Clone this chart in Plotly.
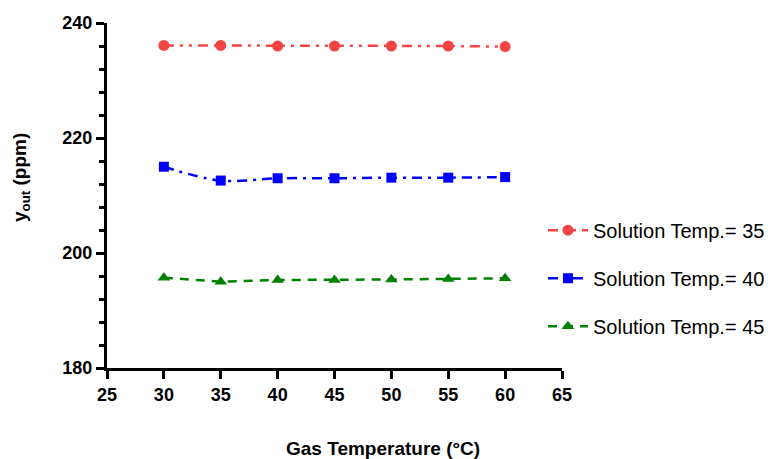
import plotly.graph_objects as go

gas_temp = [30, 35, 40, 45, 50, 55, 60]
sol35 = [236.1, 236.1, 236.0, 236.0, 236.0, 236.0, 235.9]
sol40 = [215.0, 212.6, 213.0, 213.0, 213.1, 213.1, 213.2]
sol45 = [195.7, 195.0, 195.3, 195.3, 195.4, 195.5, 195.6]
names = ["Solution Temp.= 35", "Solution Temp.= 40", "Solution Temp.= 45"]
x_title = "<b>Gas Temperature (°C)</b>"
y_title = "<b>y<sub>out</sub> (ppm)</b>"

fig = go.Figure()
fig.add_trace(go.Scatter(x=gas_temp, y=sol35, name=names[0], mode="lines+markers",
                         line=dict(color="#f44444", width=2.5, dash="10px,6px,3px,6px,3px,6px"),
                         marker=dict(symbol="circle", size=11, color="#f44444"),
                         legendgroup="a"))
fig.add_trace(go.Scatter(x=gas_temp, y=sol40, name=names[1], mode="lines+markers",
                         line=dict(color="#0000ff", width=2.5, dash="10px,6px,3px,6px", shape="spline"),
                         marker=dict(symbol="square", size=10, color="#0000ff"),
                         legendgroup="b"))
fig.add_trace(go.Scatter(x=gas_temp, y=sol45, name=names[2], mode="lines+markers",
                         line=dict(color="#008000", width=2.5, dash="9px,7px"),
                         marker=dict(symbol="triangle-up", size=11, color="#008000"),
                         legendgroup="c"))

fig.update_layout(
    width=768, height=459,
    margin=dict(l=107, r=206, t=23, b=91, autoexpand=False),
    plot_bgcolor="white", paper_bgcolor="white",
    font=dict(family="Arial, Liberation Sans, sans-serif", color="black"),
    legend=dict(xref="container", yref="container", x=0.707, y=0.394,
                xanchor="left", yanchor="middle",
                font=dict(size=20, color="black"), tracegroupgap=19,
                itemwidth=40, bgcolor="rgba(0,0,0,0)"),
    xaxis=dict(range=[25, 65], dtick=5, tick0=25, showgrid=False, zeroline=False,
               showline=True, linecolor="black", linewidth=3,
               ticks="outside", ticklen=8, tickwidth=3, tickcolor="black",
               tickfont=dict(size=18, weight="bold"), automargin=False),
    yaxis=dict(range=[180, 240], dtick=20, tick0=180, showgrid=False, zeroline=False,
               showline=True, linecolor="black", linewidth=3,
               ticks="outside", ticklen=8, tickwidth=3, tickcolor="black",
               minor=dict(dtick=4, ticks="outside", ticklen=5, tickwidth=2.5, tickcolor="black"),
               tickfont=dict(size=18, weight="bold"), automargin=False),
    annotations=[
        dict(text=x_title, xref="paper", yref="paper", x=(383 - 107) / 455, y=(368 - 436) / 345,
             xanchor="center", yanchor="top", showarrow=False, font=dict(size=19)),
        dict(text=y_title, xref="paper", yref="paper", x=(21 - 107) / 455, y=(368 - 178) / 345,
             xanchor="center", yanchor="middle", textangle=-90, showarrow=False, font=dict(size=19)),
    ],
)
fig.write_html("out.html", config={"displayModeBar": False},
               post_script="document.body.style.margin='0';")
